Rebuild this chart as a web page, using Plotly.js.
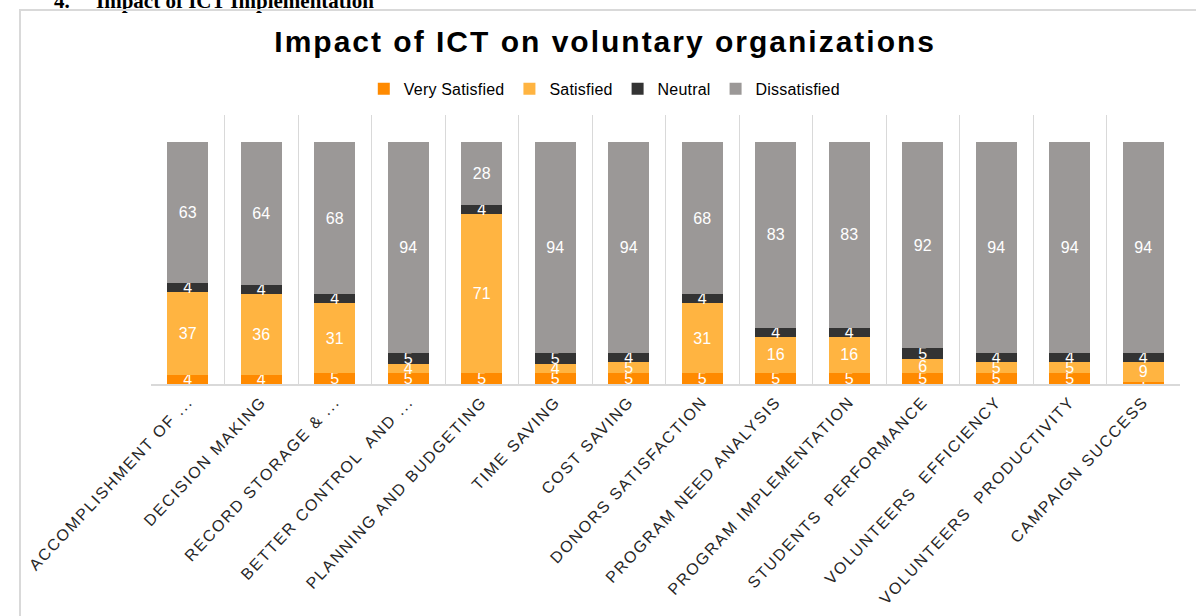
<!DOCTYPE html>
<html>
<head>
<meta charset="utf-8">
<script src="https://cdn.plot.ly/plotly-3.0.1.min.js"></script>
<style>
  body { margin: 0; background: #fff; overflow: hidden; }
  #heading {
    position: absolute; left: 54px; top: -11px;
    font-family: "Liberation Serif", "Times New Roman", serif;
    font-weight: bold; font-size: 21px; color: #000; white-space: pre;
  }
  #box {
    position: absolute; left: 19px; top: 9px; width: 1300px; height: 700px;
    border: 2px solid #d9d9d9;
  }
  #chart { position: absolute; left: 0; top: 0; width: 1196px; height: 616px; }
  /* spacing like the office chart fonts */
  .gtitle { letter-spacing: 2px; }
  .xtick text { letter-spacing: 1.7px; }
  .legendtext { letter-spacing: 0.2px; }
</style>
</head>
<body>
<div id="heading">4.     Impact of ICT Implementation</div>
<div id="box"></div>
<div id="chart"></div>
<script>
const categories = [
    "ACCOMPLISHMENT OF ...", "DECISION MAKING", "RECORD STORAGE & ...",
    "BETTER CONTROL  AND ...", "PLANNING AND BUDGETING", "TIME SAVING",
    "COST SAVING", "DONORS SATISFACTION", "PROGRAM NEED ANALYSIS",
    "PROGRAM IMPLEMENTATION", "STUDENTS  PERFORMANCE", "VOLUNTEERS  EFFICIENCY",
    "VOLUNTEERS  PRODUCTIVITY", "CAMPAIGN SUCCESS"
];
const verySatisfied = [4, 4, 5, 5, 5, 5, 5, 5, 5, 5, 5, 5, 5, 1];
const satisfied     = [37, 36, 31, 4, 71, 4, 5, 31, 16, 16, 6, 5, 5, 9];
const neutral       = [4, 4, 4, 5, 4, 5, 4, 4, 4, 4, 5, 4, 4, 4];
const dissatisfied  = [63, 64, 68, 94, 28, 94, 94, 68, 83, 83, 92, 94, 94, 94];

const seriesNames = ["Very Satisfied", "Satisfied", "Neutral", "Dissatisfied"];
const seriesColors = ["#ff8a00", "#ffb441", "#333333", "#9b9897"];
const seriesValues = [verySatisfied, satisfied, neutral, dissatisfied];

const font = "Liberation Sans, Arial, sans-serif";

const traces = seriesValues.map((vals, i) => ({
    type: "bar",
    name: seriesNames[i],
    x: categories,
    y: vals,
    text: vals.map(String),
    textposition: "inside",
    insidetextanchor: "middle",
    textangle: 0,
    textfont: {family: font, size: 16, color: "#ffffff"},
    marker: {color: seriesColors[i], line: {width: 0}},
    hoverinfo: "x+y+name"
}));

const layout = {
    width: 1196,
    height: 616,
    barmode: "stack",
    bargap: 0.44,
    constraintext: "none",
    uniformtext: {mode: "show", minsize: 16},
    paper_bgcolor: "rgba(0,0,0,0)",
    plot_bgcolor: "rgba(0,0,0,0)",
    margin: {l: 151, r: 16, t: 115, b: 232},
    font: {family: font, color: "#404040"},
    title: {
        text: "Impact of ICT on voluntary organizations",
        x: 0.506, xanchor: "center",
        y: 0.932, yanchor: "middle",
        font: {family: font, size: 30, color: "#000000", weight: "bold"}
    },
    showlegend: true,
    legend: {
        orientation: "h",
        x: 0.441, xanchor: "center",
        y: 1.097, yanchor: "middle",
        font: {family: font, size: 16, color: "#000000"},
        traceorder: "normal",
        itemwidth: 30
    },
    xaxis: {
        type: "category",
        tickson: "boundaries",
        showgrid: true,
        gridcolor: "#d9d9d9",
        gridwidth: 1,
        showline: true,
        linecolor: "#d9d9d9",
        linewidth: 2,
        ticks: "",
        tickangle: -47,
        tickfont: {family: font, size: 16, color: "#262626"},
        automargin: false
    },
    yaxis: {
        range: [0, 120],
        showgrid: false,
        zeroline: false,
        showticklabels: false,
        showline: false
    }
};

Plotly.newPlot("chart", traces, layout, {displayModeBar: false});
</script>
</body>
</html>
